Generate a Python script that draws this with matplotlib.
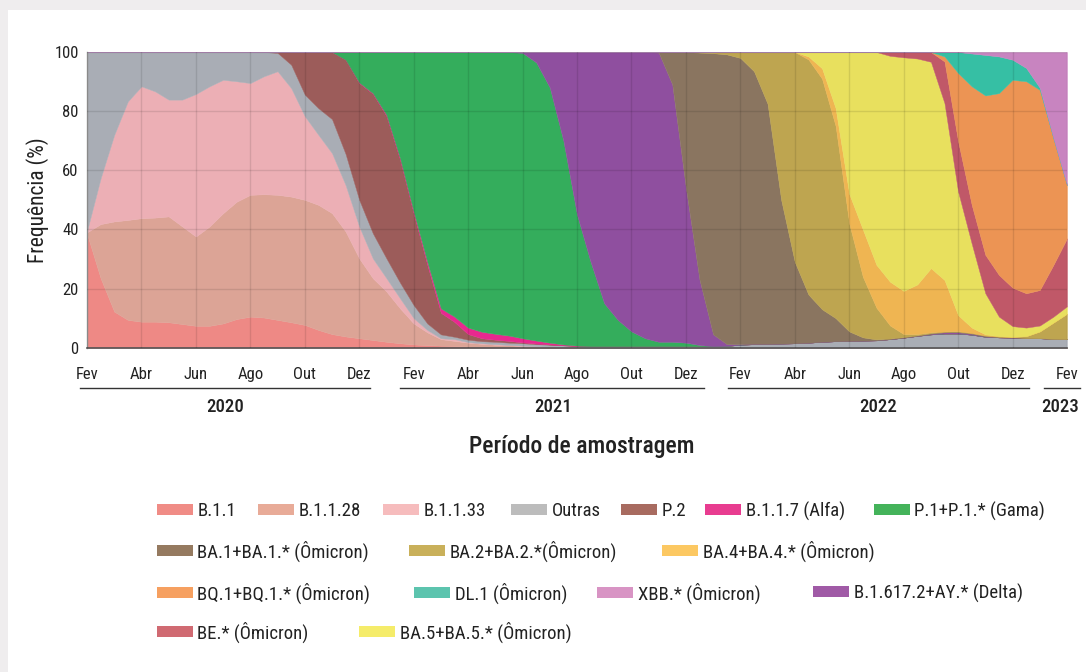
import numpy as np
import matplotlib
matplotlib.use("Agg")
import matplotlib.pyplot as plt
from matplotlib import font_manager
from matplotlib.patches import Patch, Rectangle
from matplotlib.lines import Line2D

# ---------------- data (half-monthly readings, Fev/2020 .. Fev/2023) ----------------
month_labels = ["Fev", "Abr", "Jun", "Ago", "Out", "Dez"] * 3 + ["Fev"]
years = ["2020", "2021", "2022", "2023"]
months = np.arange(0, 36.5, 0.5)          # month index since Fev/2020

b_1_1 = [38.5, 23.5, 12.2, 9.4, 8.8, 8.8, 8.6, 8, 7.4, 7.4, 8.2, 9.7, 10.5, 10.2, 9.4, 8.6, 7.7, 6,
         4.6, 3.8, 3.2, 2.6, 2, 1.5, 1.1, 0.9, 0.7, 0.6, 0.4, 0.3, 0.2, 0.15, 0.1, 0.05] + [0] * 39
b_1_1_28 = [0.5, 18.3, 30.5, 33.8, 35, 35.2, 35.8, 33, 30.2, 33.6, 37.3, 39.7, 41.2, 41.7, 42.3, 42.5,
            42.3, 42.3, 40.9, 35.5, 27, 20.9, 17, 11.8, 7.1, 4.3, 2.2, 1.7, 1.3, 1.0, 0.8, 0.65, 0.5,
            0.35, 0.25, 0.15, 0.1] + [0] * 36
b_1_1_33 = [0.5, 15.5, 29.3, 40.1, 44.6, 42.7, 39.5, 42.9, 48.2, 47.4, 45.1, 40.7, 37.8, 39.9, 41.8,
            36.7, 28.3, 23.7, 20.3, 15.7, 10.8, 6.7, 4.5, 3.4, 1.8, 0.8, 0.3, 0.6, 0.2, 0.2, 0.2, 0.15,
            0.1, 0.1, 0.05, 0.05] + [0] * 37
outras = [60.5, 42.7, 28, 16.7, 11.6, 13.3, 16.1, 16.1, 14.2, 11.6, 9.4, 9.9, 10.5, 8.2, 6.2, 7.9, 7.3,
          9, 11.5, 10.5, 9, 8.5, 6.7, 5.3, 4.4, 2.2, 1.3, 0.8, 0.8, 0.7, 0.8, 0.75, 0.8, 0.7, 0.7, 0.6,
          0.5, 0.5, 0.5, 0.5, 0.5, 0.5, 0.5, 0.5, 0.5, 0.5, 0.5, 0.6, 1, 1.2, 1.3, 1.4, 1.5, 1.7, 2, 2.2,
          2.3, 2.4, 2.5, 2.9, 3.4, 4.0, 4.5, 4.8, 4.8, 4.4, 3.7, 3.5, 3.4, 3.3, 3.2, 3.0, 2.9]
p_2 = [0] * 14 + [0.3, 4.3, 14.4, 19, 22.7, 31.9, 39.5, 47.2, 48.2, 41.6, 31, 19.9, 7.3, 5, 1.9, 1.0,
                  0.7, 0.6, 0.3, 0.2, 0.1] + [0] * 38
alfa = [0] * 20 + [0.2, 0.2, 0.4, 0.5, 0.6, 1, 1.5, 1.8, 2.2, 2.2, 2.0, 1.8, 1.4, 1.0, 0.6, 0.3,
                   0.1] + [0] * 36
gama = [0] * 19 + [2.6, 10.3, 13.9, 21.2, 35.9, 54, 70.9, 86.7, 89.5, 93.2, 94.6, 95.3, 95.9, 96.5,
                   94.1, 86.3, 68.9, 44.3, 28.5, 14.5, 8.9, 5, 2.7, 1.5, 1.5, 1.2, 0.4, 0] + [0] * 26
delta = ([0] * 32 + [0.3, 3.5, 12, 30, 55, 71, 85, 90.6, 94.5, 96.8, 97.8, 87, 52.3, 22.1, 4.0, 0.6,
                     0.2, 0.1] + [0] * 12 + [0.2, 0.4, 0.4, 0.3, 0.1] + [0] * 6)
ba_1 = [0] * 42 + [0.2, 11, 46, 76.8, 95.1, 98, 96.8, 92.2, 81.2, 48.6, 27.5, 16.3, 11, 7.8, 3.2, 1.1,
                   0.3, 0.2, 0.2, 0.2, 0.2, 0.2, 0.2, 0.2, 0.2, 0.2, 0.2] + [0] * 4
ba_2 = [0] * 45 + [0.2, 0.4, 0.8, 2, 6.5, 17.5, 50, 71, 79.5, 78, 65, 36.5, 20.5, 10.7, 4.4, 1.0, 0.4,
                   0.3, 0.1, 0.2, 0.1, 0.2, 0.1, 0.1, 0.6, 2.3, 5.5, 8.6]
ba_4 = [0] * 53 + [1, 3.5, 6, 10, 16, 14.5, 14.8, 14.6, 16.8, 21.7, 17.4, 5.4, 1.8, 0.3, 0.1] + [0] * 5
ba_5 = [0] * 53 + [1.5, 5.5, 19, 48, 60, 72, 76.4, 79, 76.4, 69.8, 59.8, 41.8, 28.4, 13.9, 6.6, 3.6,
                   2.9, 2.0, 2.0, 2.5]
be = [0] * 59 + [1.3, 1.8, 2.2, 3.3, 14.1, 17, 13.1, 13, 14.1, 13, 11.6, 12, 17.5, 23]
bq_1 = [0] * 63 + [1.7, 23.1, 40.1, 53.9, 61.5, 70.3, 71.7, 67.7, 42.9, 18]
dl_1 = [0] * 63 + [1.5, 7.1, 11.1, 13.7, 12.4, 6.8, 4.5, 0.7, 0, 0]
xbb = [0] * 65 + [0.5, 1, 1.5, 2.6, 5.4, 12.1, 29.1, 45]

series = [b_1_1, b_1_1_28, b_1_1_33, outras, p_2, alfa, gama, delta,
          ba_1, ba_2, ba_4, ba_5, be, bq_1, dl_1, xbb]
area_colors = ["#ee8985", "#dca496", "#ecafb5", "#a9adb5", "#9c5c5a", "#e8288f", "#34ad5c", "#8f4f9f",
               "#8a7560", "#bea550", "#efb552", "#e8e05e", "#c05868", "#ec9454", "#36bfa4", "#c884c0"]

legend_rows = [
    [("B.1.1", "#f08c86"), ("B.1.1.28", "#e8ab98"), ("B.1.1.33", "#f6bcbd"), ("Outras", "#bcbcbc"),
     ("P.2", "#a86b60"), ("B.1.1.7 (Alfa)", "#e83c90"), ("P.1+P.1.* (Gama)", "#44b35a")],
    [("BA.1+BA.1.* (Ômicron)", "#957a60"), ("BA.2+BA.2.*(Ômicron)", "#c9b05a"),
     ("BA.4+BA.4.* (Ômicron)", "#fcc862")],
    [("BQ.1+BQ.1.* (Ômicron)", "#f6a060"), ("DL.1 (Ômicron)", "#5cc4ae"), ("XBB.* (Ômicron)", "#d894c4"),
     ("B.1.617.2+AY.* (Delta)", "#a05aa6")],
    [("BE.* (Ômicron)", "#d06a72"), ("BA.5+BA.5.* (Ômicron)", "#f5ec6a")],
]

# ---------------- fonts ----------------
fl = font_manager.fontManager.ttflist
names = {f.name for f in fl}
fam, stretch = "Roboto", "normal"
if "Roboto Condensed" in names:
    fam = "Roboto Condensed"
elif any(f.name == "Noto Sans" and f.stretch in ("condensed", "semi-condensed") for f in fl):
    fam, stretch = "Noto Sans", "condensed"
elif "Liberation Sans Narrow" in names:
    fam = "Liberation Sans Narrow"
plt.rcParams["font.family"] = [fam, "DejaVu Sans"]
plt.rcParams["font.stretch"] = stretch
TXT = "#222222"

# ---------------- figure ----------------
W, H = 1086, 672
fig = plt.figure(figsize=(W / 100, H / 100), dpi=100, facecolor="white")
fig.patches.append(Rectangle((0, 1 - 10 / H), 1, 10 / H, transform=fig.transFigure,
                             facecolor="#efedee", edgecolor="none", zorder=0))
fig.patches.append(Rectangle((0, 0), 8 / W, 1, transform=fig.transFigure,
                             facecolor="#efedee", edgecolor="none", zorder=0))

ax_l, ax_r, ax_t, ax_b = 87, 1067, 52, 347.7
ax = fig.add_axes([ax_l / W, 1 - ax_b / H, (ax_r - ax_l) / W, (ax_b - ax_t) / H])
ax.set_facecolor("white")

polys = ax.stackplot(months, *series, colors=area_colors, linewidth=0.3)
for p, c in zip(polys, area_colors):
    p.set_edgecolor(c)

ax.set_xlim(0, 36)
ax.set_ylim(0, 100)
ax.set_xticks(np.arange(0, 37, 2))
ax.set_xticklabels(month_labels)
ax.set_yticks([0, 20, 40, 60, 80, 100])
ax.tick_params(axis="x", length=0, pad=14, labelsize=12, labelcolor=TXT)
ax.tick_params(axis="y", length=0, pad=6, labelsize=12, labelcolor=TXT)
ax.set_axisbelow(False)
ax.grid(True, color="#000000", alpha=0.10, linewidth=1.0)

for s in ("top", "right"):
    ax.spines[s].set_visible(False)
ax.spines["left"].set_color("#9a9a9a")
ax.spines["bottom"].set_color("#555555")
ax.spines["left"].set_linewidth(1)
ax.spines["bottom"].set_linewidth(1.2)

ax.set_ylabel("Frequência (%)", fontsize=15.5, color=TXT)
ax.yaxis.set_label_coords(-(ax_l - 49) / (ax_r - ax_l), 0.5)
ax.set_xlabel("Período de amostragem", fontsize=17, color=TXT, fontweight="medium")
ax.xaxis.set_label_coords((582 - ax_l) / (ax_r - ax_l), (ax_b - 447) / (ax_b - ax_t))
ax.xaxis.label.set_va("center")

# year brackets under the month labels
px2m = lambda px: (px - ax_l) / (ax_r - ax_l) * 36
year_spans = [(80, 370), (400, 704), (728, 1029), (1044, 1080)]
year_centers = [225, 553, 878, 1060]
trans = ax.get_xaxis_transform()
line_y = (ax_b - 388) / (ax_b - ax_t)
text_y = (ax_b - 407) / (ax_b - ax_t)
for (a, b), c, yl in zip(year_spans, year_centers, years):
    ax.add_line(Line2D([px2m(a), px2m(b)], [line_y, line_y], transform=trans, color="#333333",
                       linewidth=1, clip_on=False))
    ax.text(px2m(c), text_y, yl, transform=trans, ha="center", va="center", fontsize=13.5,
            color=TXT, fontweight="medium", clip_on=False)

# ---------------- legend (flow layout rows) ----------------
row_y = [511, 551, 593, 632]
row_x = [[156.5, 258, 383, 511, 621, 705, 873.5],
         [156.5, 409, 662],
         [156.5, 414, 597, 813.5],
         [156.5, 359]]
fs_leg = 13.5
for items, xs, yy in zip(legend_rows, row_x, row_y):
    for (lab, col), xx in zip(items, xs):
        fig.legend([Patch(facecolor=col, edgecolor="none")], [lab], loc="center left",
                   bbox_to_anchor=(xx / W, 1 - yy / H), frameon=False, fontsize=fs_leg,
                   handlelength=36 / (fs_leg * 100 / 72), handleheight=10 / (fs_leg * 100 / 72),
                   handletextpad=0.25, borderpad=0, borderaxespad=0, labelcolor=TXT)

fig.savefig("out.png", dpi=100, facecolor=fig.get_facecolor())
